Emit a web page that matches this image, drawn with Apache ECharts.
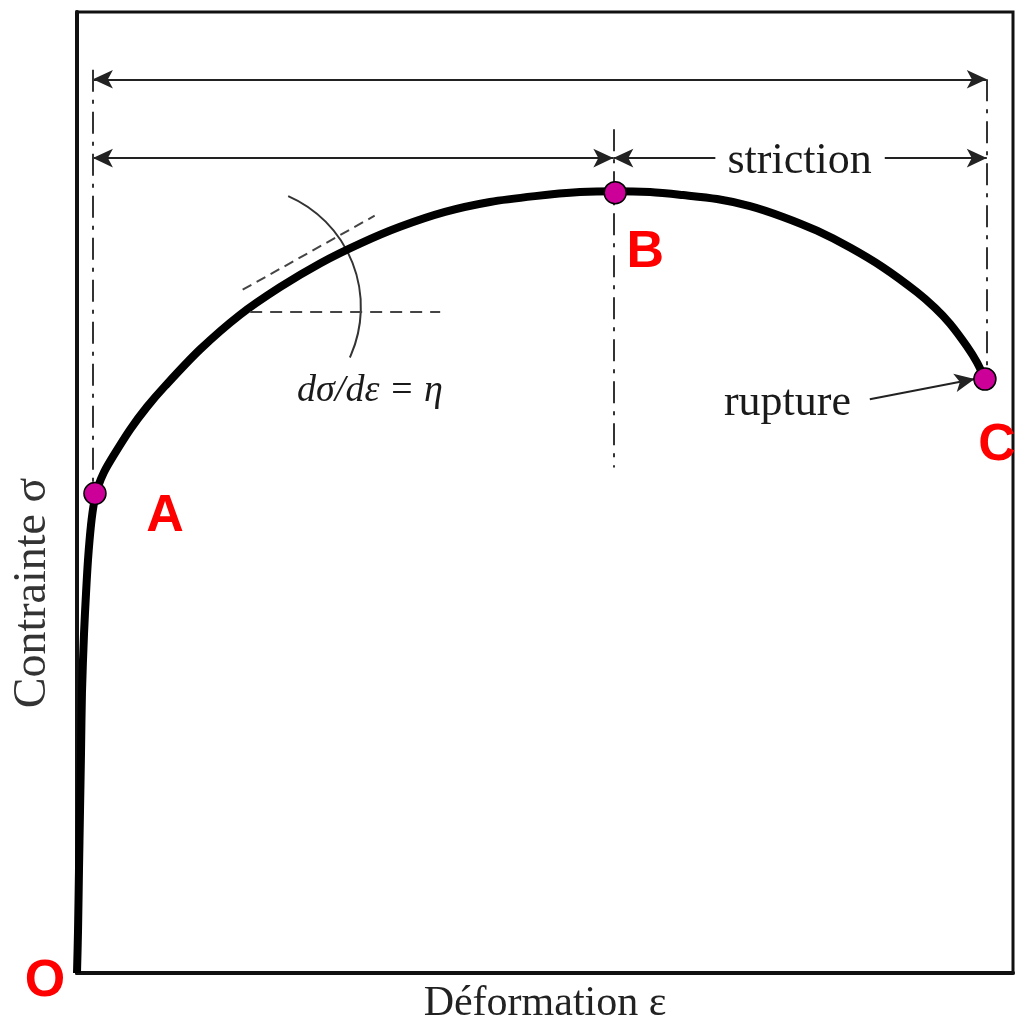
<!DOCTYPE html>
<html>
<head>
<meta charset="utf-8">
<title>Courbe contrainte - déformation</title>
<script src="https://cdn.jsdelivr.net/npm/echarts@6/dist/echarts.min.js"></script>
<style>
  html, body { margin: 0; padding: 0; background: #fff; }
  #chart { width: 1017px; height: 1030px; }
</style>
</head>
<body>
<div id="chart"></div>
<script>
// courbe de traction (unités arbitraires, 0-100 sur chaque axe)
const strain = [0, 0.11, 0.21, 0.32, 0.43, 0.53, 0.75, 0.96, 1.18, 1.5, 1.82, 2.24, 2.88, 3.85, 5.66, 7.48, 9.4, 13.14,
  17.41, 21.69, 25.96, 30.24, 34.51, 39.32, 44.12, 48.93, 53.74, 57.48, 61.22, 64.74, 68.38, 71.9, 75.43, 79.06,
  82.59, 86.11, 89.74, 91.67, 93.27, 95.09, 96.15, 97.01];
const stress = [0, 4.43, 10.61, 16.79, 22.97, 29.15, 35.32, 39.44, 43.05, 46.65, 48.92, 50.57, 52.11, 53.76, 56.54, 58.91, 61.07, 64.88,
  68.49, 71.37, 73.84, 75.9, 77.65, 79.2, 80.23, 80.84, 81.26, 81.36, 81.26, 80.95, 80.54, 79.81, 78.68, 77.24,
  75.49, 73.43, 70.85, 69.21, 67.56, 65.19, 63.54, 61.79];

// points remarquables
const pointNames = ['O', 'A', 'B', 'C'];
const pointStrain = [0, 1.92, 57.5, 97.0];
const pointStress = [0, 49.9, 81.2, 61.8];

// cotes / repères
const dimTopStress = 93.0;      // cote totale
const dimMidStress = 84.8;      // cote B + striction
const guideStrain = [1.7, 57.3, 97.2];
const guideTop = [94.0, 87.8, 93.0];
const guideBottom = [49.7, 52.6, 61.8];
const strictionGap = [68.2, 86.3];
const tangentLine = [[17.7, 71.1], [31.8, 78.8]];
const horizLine = [[18.5, 68.8], [38.8, 68.8]];
const ruptureArrow = [[84.7, 59.7], [95.9, 61.8]];

// textes
const annoText = ['striction', 'rupture', 'dσ/dε = η'];
const annoStrain = [77.2, 75.9, 31.3];
const annoStress = [84.5, 59.3, 60.6];

const chart = echarts.init(document.getElementById('chart'));

const serif = '"Liberation Serif", "DejaVu Serif", serif';
const dimStyle = { color: '#222', width: 2, type: 'solid' };
const dashDot = { color: '#333', width: 2, type: [22, 8, 4, 8] };

const markLines = [];
// cote totale
markLines.push([
  { coord: [guideStrain[0], dimTopStress], symbol: 'arrow', lineStyle: dimStyle },
  { coord: [guideStrain[2], dimTopStress], symbol: 'arrow' }
]);
// cote jusqu'à B
markLines.push([
  { coord: [guideStrain[0], dimMidStress], symbol: 'arrow', lineStyle: dimStyle },
  { coord: [guideStrain[1], dimMidStress], symbol: 'arrow' }
]);
// striction
markLines.push([
  { coord: [guideStrain[1], dimMidStress], symbol: 'arrow', lineStyle: dimStyle },
  { coord: [strictionGap[0], dimMidStress], symbol: 'none' }
]);
markLines.push([
  { coord: [strictionGap[1], dimMidStress], symbol: 'none', lineStyle: dimStyle },
  { coord: [guideStrain[2], dimMidStress], symbol: 'arrow' }
]);
// lignes de rappel
guideStrain.forEach((x, i) => {
  markLines.push([
    { coord: [x, guideTop[i]], symbol: 'none', lineStyle: dashDot },
    { coord: [x, guideBottom[i]], symbol: 'none' }
  ]);
});
// tangente + horizontale
markLines.push([
  { coord: tangentLine[0], symbol: 'none', lineStyle: { color: '#444', width: 2, type: [10, 6] } },
  { coord: tangentLine[1], symbol: 'none' }
]);
markLines.push([
  { coord: horizLine[0], symbol: 'none', lineStyle: { color: '#444', width: 2, type: [12, 8] } },
  { coord: horizLine[1], symbol: 'none' }
]);
// flèche rupture
markLines.push([
  { coord: ruptureArrow[0], symbol: 'none', lineStyle: dimStyle },
  { coord: ruptureArrow[1], symbol: 'arrow' }
]);

const labelOffsets = [[-32, 9], [70, 23], [30, 60], [12, 67]];

const option = {
  animation: false,
  backgroundColor: '#fff',
  grid: {
    left: 77, top: 12, right: 4, bottom: 47,
    show: true, borderColor: '#111', borderWidth: 3
  },
  xAxis: {
    type: 'value', min: 0, max: 100,
    name: 'Déformation ε', nameLocation: 'middle', nameGap: 10,
    nameTextStyle: { fontFamily: serif, fontSize: 42, color: '#222', verticalAlign: 'top' },
    axisLine: { show: true, lineStyle: { color: '#111', width: 4 } },
    axisTick: { show: false }, axisLabel: { show: false }, splitLine: { show: false }
  },
  yAxis: {
    type: 'value', min: 0, max: 100,
    axisLine: { show: true, lineStyle: { color: '#111', width: 4 } },
    axisTick: { show: false }, axisLabel: { show: false }, splitLine: { show: false }
  },
  series: [
    {
      name: 'courbe',
      type: 'line',
      data: strain.map((x, i) => [x, stress[i]]),
      smooth: 0.3,
      showSymbol: false,
      lineStyle: { color: '#000', width: 8, join: 'round' },
      markLine: {
        silent: true,
        symbolSize: [14, 20],
        label: { show: false },
        data: markLines
      },
      z: 3
    },
    {
      name: 'textes',
      type: 'scatter',
      symbolSize: 0,
      silent: true,
      itemStyle: { opacity: 1 },
      data: annoText.map((t, i) => ({
        value: [annoStrain[i], annoStress[i]],
        label: {
          show: true, position: 'inside', formatter: t,
          fontFamily: serif, fontSize: i === 2 ? 38 : 44,
          fontStyle: i === 2 ? 'italic' : 'normal',
          color: '#1a1a1a', backgroundColor: i === 0 ? '#fff' : 'transparent', padding: [0, 6]
        }
      })),
      z: 4
    },
    {
      name: 'points',
      type: 'scatter',
      clip: false,
      silent: true,
      data: pointNames.map((n, i) => ({
        value: [pointStrain[i], pointStress[i]],
        symbolSize: n === 'O' ? 0 : 22,
        label: {
          show: true, position: 'inside', formatter: n, offset: labelOffsets[i],
          fontFamily: 'Liberation Sans, Arial, sans-serif', fontWeight: 'bold',
          fontSize: 52, color: '#ff0000'
        }
      })),
      itemStyle: { color: '#cc0099', borderColor: '#000', borderWidth: 1.5, opacity: 1 },
      z: 6
    }
  ]
};

chart.setOption(option);

// arc de l'angle et titre vertical
const arcCenter = chart.convertToPixel({ gridIndex: 0 }, [17.4, 69.3]);
chart.setOption({
  graphic: [
    {
      type: 'arc',
      shape: { cx: arcCenter[0], cy: arcCenter[1], r: 121, startAngle: -1.16, endAngle: 0.43, clockwise: true },
      style: { stroke: '#333', lineWidth: 2, fill: null },
      silent: true
    },
    {
      type: 'text',
      x: 33, y: 593,
      rotation: Math.PI / 2,
      style: {
        text: 'Contrainte σ', fill: '#333',
        font: '46px ' + serif,
        textAlign: 'center', textVerticalAlign: 'middle'
      },
      silent: true
    }
  ]
});
</script>
</body>
</html>
